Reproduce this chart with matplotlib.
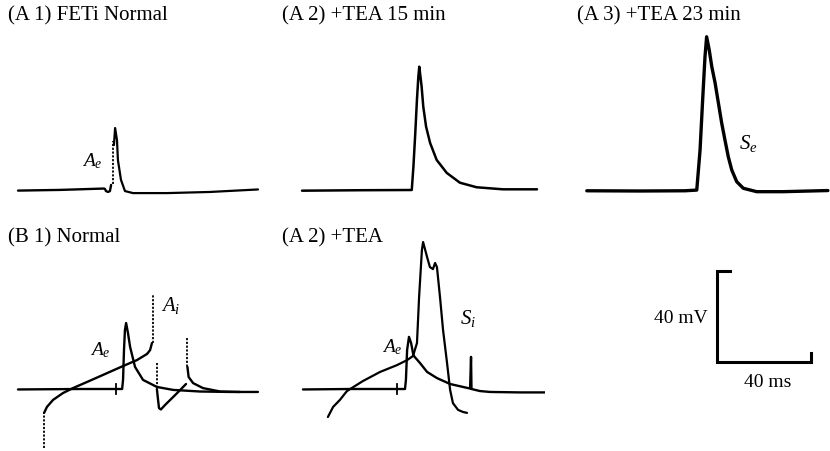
import matplotlib
matplotlib.use("Agg")
import matplotlib.pyplot as plt

plt.rcParams['font.family'] = ['Liberation Serif', 'DejaVu Serif']
plt.rcParams['mathtext.fontset'] = 'custom'
plt.rcParams['mathtext.it'] = 'Liberation Serif:italic'
plt.rcParams['mathtext.rm'] = 'Liberation Serif'

W, H = 830, 451
PX_MS = 2.35   # pixels per ms
PX_MV = 2.275  # pixels per mV

# ---- data: time (ms) from stimulus, voltage (mV) from resting baseline ----
# A1 FETi normal
a1_pre_t = [-37.0, -19.1, -0.4, 0.0, 0.4, 1.3, 2.1, 2.6]
a1_pre_v = [-0.7, -0.4, 0.2, 0.0, -0.9, -1.3, -0.9, 1.8]
a1_dot_t = [3.4, 3.4]
a1_dot_v = [2.2, 21.1]
a1_spk_t = [3.8, 4.3, 5.1, 5.5, 6.8, 8.5, 11.9, 26.4, 44.7, 65.1]
a1_spk_v = [19.3, 26.8, 21.5, 12.7, 4.0, -0.9, -1.8, -1.8, -1.3, -0.2]

# A2 +TEA 15 min
a2_t = [-46.8, -22.1, -0.1, 0.6, 1.4, 2.1, 2.7, 3.1, 4.1, 4.8, 6.0, 7.7,
        10.5, 14.8, 20.4, 27.5, 38.7, 53.2]
a2_v = [-0.3, -0.1, 0.0, 10.2, 25.1, 39.6, 49.8, 54.2, 45.4, 36.6, 27.8, 20.7,
        13.2, 7.5, 3.2, 1.2, 0.3, 0.3]

# A3 +TEA 23 min
a3_t = [-46.9, -24.3, -5.1, -0.1, 1.3, 2.4, 3.4, 4.1, 5.2, 6.3, 7.7, 9.1, 10.5,
        11.9, 13.3, 14.8, 16.9, 19.7, 25.4, 36.6, 55.7]
a3_v = [0.1, 0.0, 0.1, 0.4, 18.0, 40.0, 59.0, 67.8, 62.0, 54.6, 47.5, 38.7, 29.9,
        22.4, 15.1, 9.2, 4.1, 1.2, -0.3, -0.3, 0.2]

# B1 normal: extracellular (Ae) and intracellular (Ai) traces
b1_ext_t = [-41.7, -15.3, 0.0, 2.6, 3.0, 3.4, 3.8, 4.3, 5.1, 6.0, 8.1, 11.5,
            17.4, 24.3, 35.7, 48.5, 60.4]
b1_ext_v = [-0.2, 0.0, 0.0, 0.0, 4.0, 17.1, 25.9, 29.0, 24.6, 18.5, 9.7, 4.0,
            0.9, -0.4, -1.1, -1.3, -1.3]
b1_int1_t = [-30.6, -29.4, -26.8, -22.6, -18.3, -12.3, -5.5, 3.0, 8.9, 13.2, 14.5, 15.3]
b1_int1_v = [-10.5, -7.9, -4.8, -1.8, 0.4, 3.1, 6.2, 10.1, 12.7, 15.4, 17.1, 20.2]
b1_int2_t = [17.4, 17.9, 18.3, 19.1, 20.9, 26.0, 29.8]
b1_int2_v = [0.0, -4.8, -8.4, -9.0, -7.0, -1.8, 2.2]
b1_int3_t = [30.4, 30.9, 32.8, 37.0, 44.3, 52.8]
b1_int3_v = [9.7, 5.3, 2.6, 0.4, -1.1, -1.3]
b1_dots = [([-30.6, -30.6], [-25.9, -10.5]),
           ([15.7, 15.7], [20.2, 41.3]),
           ([17.4, 17.4], [11.4, 0.0]),
           ([30.2, 30.2], [22.4, 9.7])]

# B2 +TEA
b2_ext_t = [-40.0, -20.0, 0.0, 3.4, 3.8, 4.3, 5.1, 6.0, 6.8, 7.2, 9.8, 12.8,
            17.0, 22.6, 28.1, 31.1, 31.5, 31.7, 35.3, 39.6, 52.3, 63.0]
b2_ext_v = [-0.2, 0.0, 0.0, 0.0, 4.0, 17.1, 22.9, 20.2, 15.8, 14.5, 11.4, 7.5,
            4.8, 2.2, 0.9, 0.2, 14.1, 0.0, -0.9, -1.3, -1.5, -1.5]
b2_int_t = [-29.4, -27.2, -24.3, -21.3, -14.5, -7.2, 0.0, 4.3, 6.8, 8.5, 9.4,
            10.6, 11.1, 12.8, 14.0, 15.3, 16.2, 17.0, 18.3, 19.6, 21.3, 22.6,
            23.8, 26.0, 28.1, 29.8]
b2_int_v = [-12.3, -7.9, -4.8, -0.9, 3.5, 7.5, 10.5, 12.7, 14.5, 20.2, 40.4,
            61.1, 64.6, 58.0, 53.6, 52.7, 55.4, 53.6, 40.4, 25.9, 11.4, -0.4,
            -6.2, -9.2, -10.1, -10.5]

SCALE_MS = 40
SCALE_MV = 40


def panel_axes(fig, x0, y0, left, right, top, bottom):
    """Axes over a pixel box, with t=0 / v=0 at pixel (x0, y0)."""
    ax = fig.add_axes([left / W, 1 - bottom / H, (right - left) / W, (bottom - top) / H])
    ax.set_xlim((left - x0) / PX_MS, (right - x0) / PX_MS)
    ax.set_ylim((y0 - bottom) / PX_MV, (y0 - top) / PX_MV)
    ax.axis('off')
    return ax


def trace(ax, t, v, lw=1.7):
    ax.plot(t, v, color='black', lw=lw, solid_capstyle='round', solid_joinstyle='round')


def dotted(ax, t, v):
    ax.plot(t, v, color='black', lw=1.3, linestyle=(0, (1.2, 0.9)))


def stim_tick(ax):
    ax.plot([0, 0], [-2.2, 2.2], color='black', lw=1.3)


fig = plt.figure(figsize=(W / 100, H / 100), dpi=100)

titles = [(8, 16, "(A 1) FETi Normal"), (282, 16, "(A 2) +TEA 15 min"),
          (577, 16, "(A 3) +TEA 23 min"), (8, 238, "(B 1) Normal"),
          (282, 238, "(A 2) +TEA")]
for x, y, s in titles:
    fig.text(x / W, 1 - y / H, s, fontsize=15, ha='left', va='center')

# A1
ax = panel_axes(fig, 105, 189, 10, 265, 40, 210)
trace(ax, a1_pre_t, a1_pre_v)
dotted(ax, a1_dot_t, a1_dot_v)
trace(ax, a1_spk_t, a1_spk_v, lw=1.6)
ax.text(-5.5, 12.3, r"$A_e$", fontsize=14, ha='center', va='center')

# A2
ax = panel_axes(fig, 412, 190, 280, 545, 40, 210)
trace(ax, a2_t, a2_v, lw=1.8)

# A3
ax = panel_axes(fig, 697, 191, 560, 830, 25, 210)
trace(ax, a3_t, a3_v, lw=2.4)
ax.text(21.7, 20.7, r"$S_e$", fontsize=15, ha='center', va='center')

# B1
ax = panel_axes(fig, 116, 389, 10, 265, 225, 451)
trace(ax, b1_ext_t, b1_ext_v)
stim_tick(ax)
trace(ax, b1_int1_t, b1_int1_v)
trace(ax, b1_int2_t, b1_int2_v)
trace(ax, b1_int3_t, b1_int3_v)
for t, v in b1_dots:
    dotted(ax, t, v)
ax.text(-6.8, 17.1, r"$A_e$", fontsize=14, ha='center', va='center')
ax.text(23.4, 36.9, r"$A_i$", fontsize=15, ha='center', va='center')

# B2
ax = panel_axes(fig, 397, 389, 280, 545, 225, 451)
trace(ax, b2_ext_t, b2_ext_v)
stim_tick(ax)
trace(ax, b2_int_t, b2_int_v, lw=1.6)
ax.text(-2.1, 18.5, r"$A_e$", fontsize=14, ha='center', va='center')
ax.text(30.2, 31.2, r"$S_i$", fontsize=15, ha='center', va='center')

# scale bar
ax = panel_axes(fig, 717, 362, 600, 830, 250, 420)
ax.plot([5.5, 0, 0, SCALE_MS, SCALE_MS], [SCALE_MV, SCALE_MV, 0, 0, 4.0],
        color='black', lw=2.2, solid_joinstyle='miter')
ax.text(-3.8, SCALE_MV * 0.48, f"{SCALE_MV} mV", fontsize=14, ha='right', va='center')
ax.text(SCALE_MS * 0.54, -8.8, f"{SCALE_MS} ms", fontsize=14, ha='center', va='center')

fig.savefig("out.png", dpi=100)
